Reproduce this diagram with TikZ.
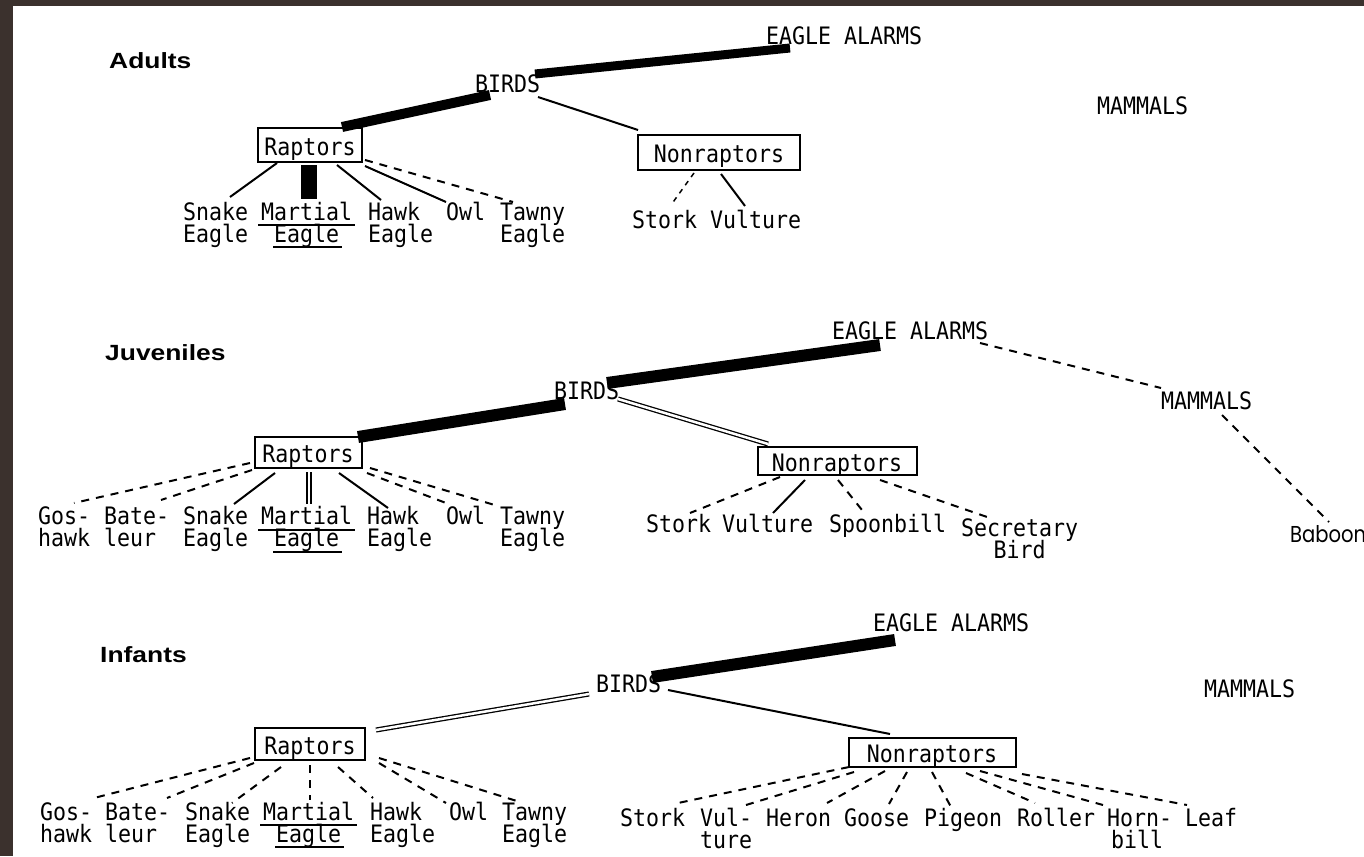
\documentclass[tikz,border=0pt]{standalone}
\usepackage{fontspec}
\newfontfamily\labfont[FakeStretch=0.9]{DejaVu Sans Mono}
\newfontfamily\titlefont[FakeStretch=1.2]{Liberation Sans}
\newfontfamily\babfont[FakeStretch=0.85]{Poppins}
\usetikzlibrary{calc}
\definecolor{framecol}{HTML}{3B312D}
\newcommand{\twoL}[2]{\vtop{\baselineskip=22pt\lineskiplimit=-30pt\lineskip=0pt\halign{##\hfil\cr#1\cr#2\cr}}}
\newcommand{\twoC}[2]{\vtop{\baselineskip=22pt\lineskiplimit=-30pt\lineskip=0pt\halign{\hfil##\hfil\cr#1\cr#2\cr}}}
\tikzset{
  lab/.style={font=\labfont\fontsize{24}{22}\selectfont, inner sep=0pt, anchor=base west},
  ttl/.style={font=\titlefont\bfseries\fontsize{22}{24}\selectfont, inner sep=0pt, anchor=base west},
  bx/.style={draw, line width=2pt, inner sep=0pt, font=\labfont\fontsize{24}{22}\selectfont, text height=20pt, text depth=0pt},
  solidE/.style={line width=2pt},
  dashE/.style={line width=2pt, dash pattern=on 8pt off 7pt},
  fineE/.style={line width=1.5pt, dash pattern=on 5pt off 5pt},
  barE/.style={line width=#1},
  dblE/.style={double, line width=1.3pt, double distance=2.5pt},
  ulE/.style={line width=2pt}
}
\begin{document}
\begin{tikzpicture}[x=1pt,y=-1pt]
\useasboundingbox (0,0) rectangle (1364,856);
\fill[framecol] (0,0) rectangle (1364,856);
\fill[white] (13,6) rectangle (1364,856);

% ---------------- Adults ----------------
\node[ttl] (titleA) at (109,69) {Adults};
\node[lab] (eaA) at (766,45) {EAGLE ALARMS};
\node[lab] (birdsA) at (475,93) {BIRDS};
\node[lab] (mamA) at (1097,115) {MAMMALS};
\node[bx, minimum width=104pt, minimum height=34pt] (rapA) at (310,145) {Raptors};
\node[bx, minimum width=162pt, minimum height=35pt] (nonA) at (719,152) {Nonraptors};
\node[lab] (snakeA) at (183,220) {\twoL{Snake}{Eagle}};
\node[lab] (martialA) at (261,220) {\twoC{Martial}{Eagle}};
\node[lab] (hawkA) at (368,220) {\twoL{Hawk}{Eagle}};
\node[lab] (owlA) at (446,220) {Owl};
\node[lab] (tawnyA) at (500,220) {\twoL{Tawny}{Eagle}};
\node[lab] (storkA) at (632,228) {Stork};
\node[lab] (vultA) at (710,228) {Vulture};

\draw[barE=9pt] ($(eaA.base west)+(24,3)$) -- ($(birdsA.base west)+(60,-19)$);
\draw[barE=10pt] ($(birdsA.base west)+(15,2)$) -- ($(rapA)+(32,-18)$);
\draw[solidE] ($(birdsA.base west)+(63,4)$) -- ($(nonA)+(-81,-22)$);
\draw[solidE] ($(rapA)+(-33,18)$) -- ($(snakeA.base west)+(47,-23)$);
\draw[barE=16pt] ($(rapA)+(-1,20)$) -- ($(martialA.base west)+(48,-21)$);
\draw[solidE] ($(rapA)+(27,20)$) -- ($(hawkA.base west)+(13,-20)$);
\draw[solidE] ($(rapA)+(55,21)$) -- ($(owlA.base west)+(0,-18)$);
\draw[dashE] ($(rapA)+(55,15)$) -- ($(tawnyA.base west)+(13,-18)$);
\draw[fineE] ($(nonA)+(-25,21)$) -- ($(storkA.base west)+(39,-23)$);
\draw[solidE] ($(nonA)+(2,22)$) -- ($(vultA.base west)+(35,-22)$);
\draw[ulE] ($(martialA.base west)+(-3,5)$) -- ($(martialA.base west)+(94,5)$);
\draw[ulE] ($(martialA.base west)+(12,27)$) -- ($(martialA.base west)+(81,27)$);

% ---------------- Juveniles ----------------
\node[ttl] (titleJ) at (105,360) {Juveniles};
\node[lab] (eaJ) at (832,339) {EAGLE ALARMS};
\node[lab] (birdsJ) at (554,399) {BIRDS};
\node[lab] (mamJ) at (1161,409) {MAMMALS};
\node[font=\babfont\fontsize{23}{26}\selectfont, inner sep=0pt, anchor=base west] (babJ) at (1290,542) {Baboon};
\node[bx, minimum width=107pt, minimum height=31pt] (rapJ) at (308,452) {Raptors};
\node[bx, minimum width=159pt, minimum height=28pt] (nonJ) at (837,461) {Nonraptors};
\node[lab] (gosJ) at (38,524) {\twoL{Gos-}{hawk}};
\node[lab] (bateJ) at (104,524) {\twoL{Bate-}{leur}};
\node[lab] (snakeJ) at (183,524) {\twoL{Snake}{Eagle}};
\node[lab] (martialJ) at (261,524) {\twoC{Martial}{Eagle}};
\node[lab] (hawkJ) at (367,524) {\twoL{Hawk}{Eagle}};
\node[lab] (owlJ) at (446,524) {Owl};
\node[lab] (tawnyJ) at (500,524) {\twoL{Tawny}{Eagle}};
\node[lab] (storkJ) at (646,532) {Stork};
\node[lab] (vultJ) at (722,532) {Vulture};
\node[lab] (spoonJ) at (829,532) {Spoonbill};
\node[lab] (secJ) at (961,536) {\twoC{Secretary}{Bird}};

\draw[barE=12pt] ($(eaJ.base west)+(48,6)$) -- ($(birdsJ.base west)+(53,-16)$);
\draw[barE=12pt] ($(birdsJ.base west)+(11,5)$) -- ($(rapJ)+(50,-15)$);
\draw[dblE] ($(birdsJ.base west)+(64,0)$) -- ($(nonJ)+(-69,-17)$);
\draw[dashE] ($(eaJ.base west)+(148,4)$) -- ($(mamJ.base west)+(0,-21)$);
\draw[dashE] ($(mamJ.base west)+(61,6)$) -- ($(babJ.base west)+(39,-20)$);
\draw[dashE] ($(rapJ)+(-58,11)$) -- ($(gosJ.base west)+(36,-21)$);
\draw[dashE] ($(rapJ)+(-56,18)$) -- ($(bateJ.base west)+(57,-24)$);
\draw[solidE] ($(rapJ)+(-33,21)$) -- ($(snakeJ.base west)+(51,-20)$);
\draw[dblE] ($(rapJ)+(1,20)$) -- ($(martialJ.base west)+(48,-20)$);
\draw[solidE] ($(rapJ)+(31,21)$) -- ($(hawkJ.base west)+(21,-16)$);
\draw[dashE] ($(rapJ)+(59,21)$) -- ($(owlJ.base west)+(0,-21)$);
\draw[dashE] ($(rapJ)+(62,16)$) -- ($(tawnyJ.base west)+(-2,-18)$);
\draw[dashE] ($(nonJ)+(-57,16)$) -- ($(storkJ.base west)+(44,-19)$);
\draw[solidE] ($(nonJ)+(-32,19)$) -- ($(vultJ.base west)+(51,-19)$);
\draw[dashE] ($(nonJ)+(1,19)$) -- ($(spoonJ.base west)+(37,-17)$);
\draw[dashE] ($(nonJ)+(43,19)$) -- ($(secJ.base west)+(29,-18)$);
\draw[ulE] ($(martialJ.base west)+(-3,6)$) -- ($(martialJ.base west)+(94,6)$);
\draw[ulE] ($(martialJ.base west)+(12,28)$) -- ($(martialJ.base west)+(81,28)$);

% ---------------- Infants ----------------
\node[ttl] (titleI) at (100,662) {Infants};
\node[lab] (eaI) at (873,631) {EAGLE ALARMS};
\node[lab] (birdsI) at (596,692) {BIRDS};
\node[lab] (mamI) at (1204,697) {MAMMALS};
\node[bx, minimum width=110pt, minimum height=32pt] (rapI) at (310,744) {Raptors};
\node[bx, minimum width=167pt, minimum height=29pt] (nonI) at (932,752) {Nonraptors};
\node[lab] (gosI) at (40,820) {\twoL{Gos-}{hawk}};
\node[lab] (bateI) at (105,820) {\twoL{Bate-}{leur}};
\node[lab] (snakeI) at (185,820) {\twoL{Snake}{Eagle}};
\node[lab] (martialI) at (263,820) {\twoC{Martial}{Eagle}};
\node[lab] (hawkI) at (370,820) {\twoL{Hawk}{Eagle}};
\node[lab] (owlI) at (449,820) {Owl};
\node[lab] (tawnyI) at (502,820) {\twoL{Tawny}{Eagle}};
\node[lab] (storkI) at (620,826) {Stork};
\node[lab] (vulI) at (700,826) {\twoL{Vul-}{ture}};
\node[lab] (heronI) at (766,826) {Heron};
\node[lab] (gooseI) at (844,826) {Goose};
\node[lab] (pigeonI) at (924,826) {Pigeon};
\node[lab] (rollerI) at (1017,826) {Roller};
\node[lab] (hornI) at (1107,826) {\twoL{Horn-}{\,bill}};
\node[lab] (leafI) at (1185,826) {Leaf};

\draw[barE=12pt] ($(eaI.base west)+(22,9)$) -- ($(birdsI.base west)+(56,-15)$);
\draw[dblE] ($(birdsI.base west)+(-7,2)$) -- ($(rapI)+(66,-14)$);
\draw[solidE] ($(birdsI.base west)+(72,-2)$) -- ($(nonI)+(-42,-18)$);
\draw[dashE] ($(rapI)+(-60,14)$) -- ($(gosI.base west)+(54,-22)$);
\draw[dashE] ($(rapI)+(-56,19)$) -- ($(bateI.base west)+(62,-22)$);
\draw[dashE] ($(rapI)+(-29,23)$) -- ($(snakeI.base west)+(47,-17)$);
\draw[dashE] ($(rapI)+(0,21)$) -- ($(martialI.base west)+(47,-20)$);
\draw[dashE] ($(rapI)+(28,23)$) -- ($(hawkI.base west)+(3,-22)$);
\draw[dashE] ($(rapI)+(69,19)$) -- ($(owlI.base west)+(-3,-17)$);
\draw[dashE] ($(rapI)+(69,14)$) -- ($(tawnyI.base west)+(18,-18)$);
\draw[dashE] ($(nonI)+(-83,15)$) -- ($(storkI.base west)+(58,-23)$);
\draw[dashE] ($(nonI)+(-78,20)$) -- ($(vulI.base west)+(46,-21)$);
\draw[dashE] ($(nonI)+(-47,19)$) -- ($(heronI.base west)+(61,-23)$);
\draw[dashE] ($(nonI)+(-25,20)$) -- ($(gooseI.base west)+(45,-22)$);
\draw[dashE] ($(nonI)+(0,20)$) -- ($(pigeonI.base west)+(27,-19)$);
\draw[dashE] ($(nonI)+(34,21)$) -- ($(rollerI.base west)+(18,-23)$);
\draw[dashE] ($(nonI)+(48,19)$) -- ($(hornI.base west)+(-4,-21)$);
\draw[dashE] ($(nonI)+(90,22)$) -- ($(leafI.base west)+(2,-21)$);
\draw[ulE] ($(martialI.base west)+(-3,5)$) -- ($(martialI.base west)+(94,5)$);
\draw[ulE] ($(martialI.base west)+(12,27)$) -- ($(martialI.base west)+(81,27)$);
\end{tikzpicture}
\end{document}
